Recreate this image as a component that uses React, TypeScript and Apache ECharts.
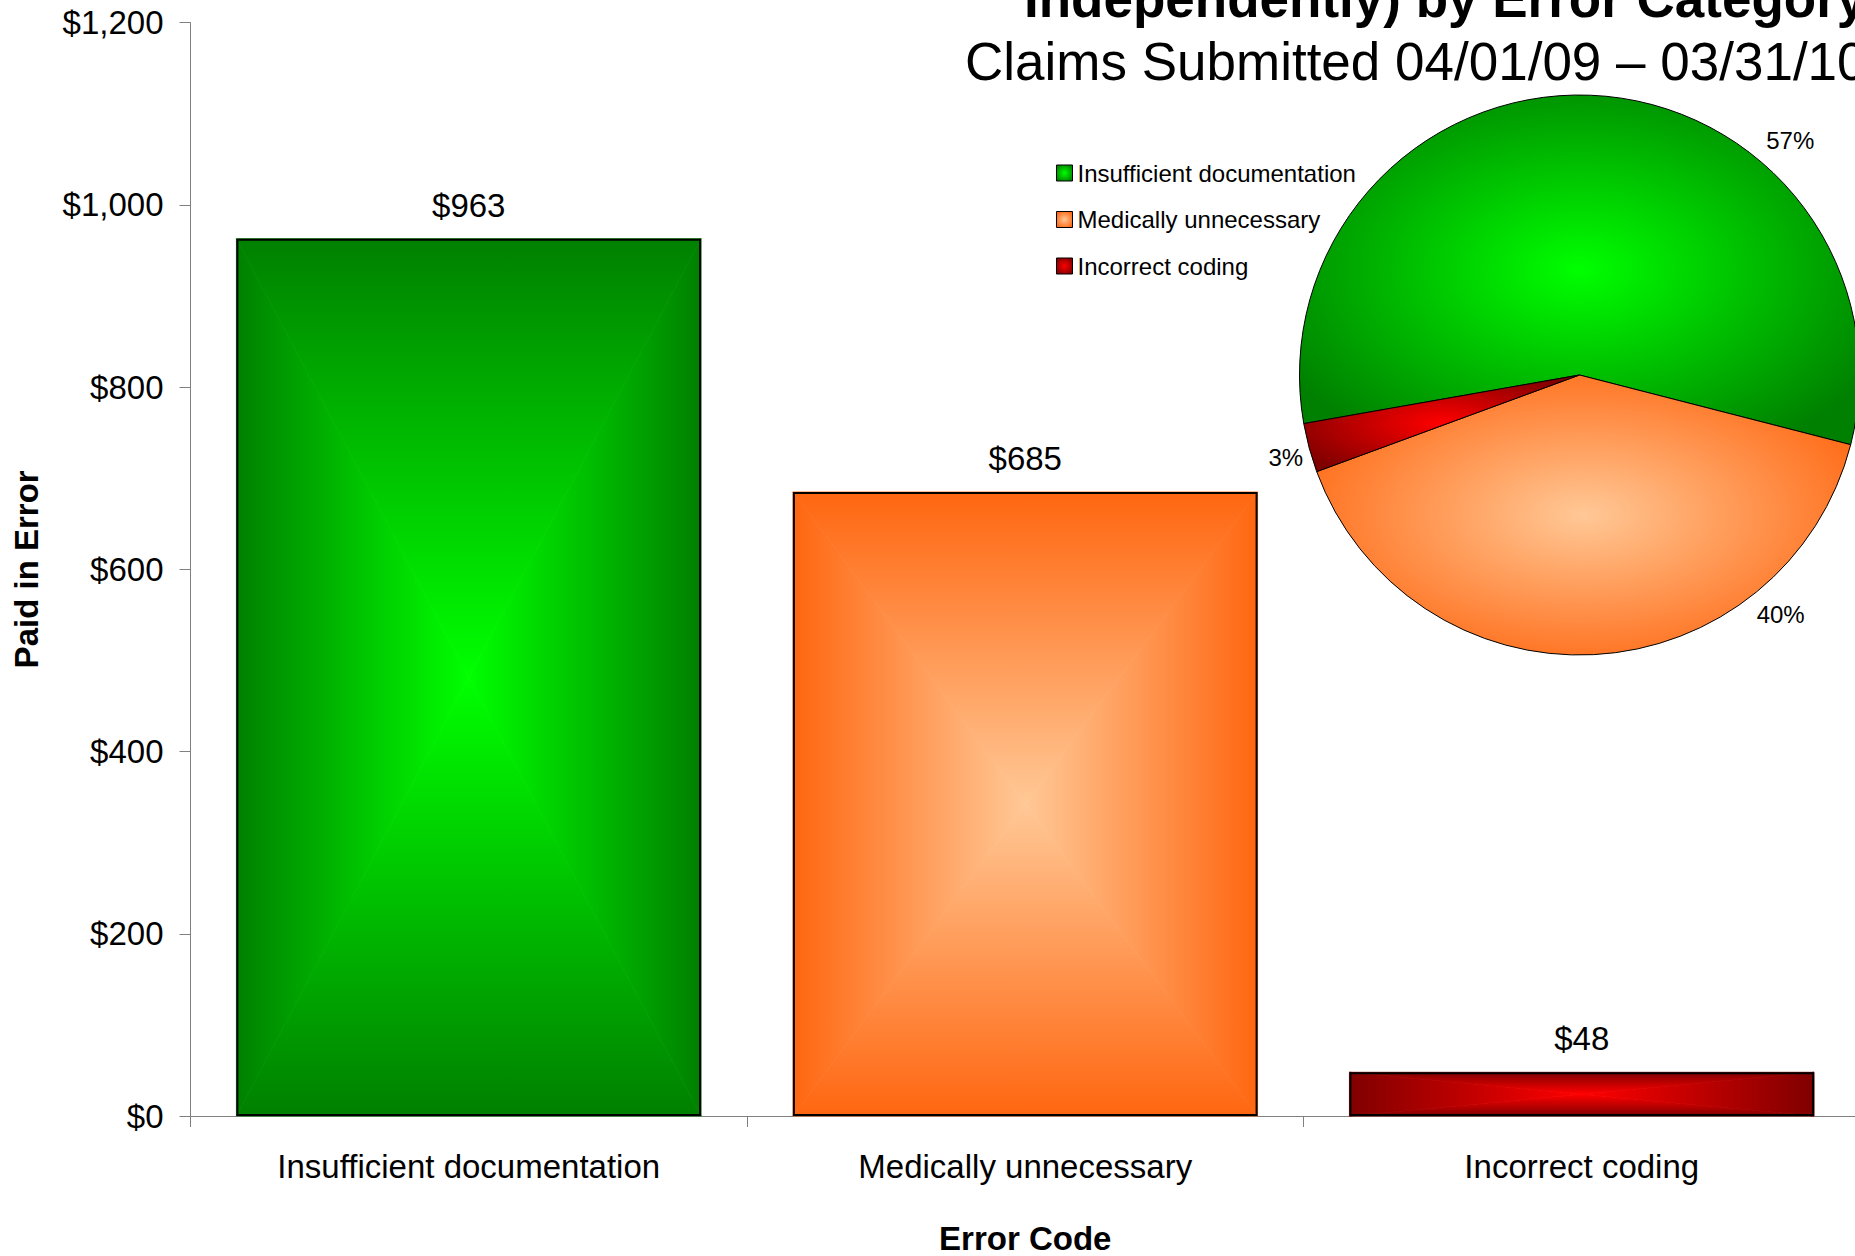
import React, { useEffect, useRef } from "react";
import * as echarts from "echarts";

const categories = ["Insufficient documentation", "Medically unnecessary", "Incorrect coding"];
const paidValues = [963, 685, 48];
const yTicks = [0, 200, 400, 600, 800, 1000, 1200];
const edgeColors = ["#008000", "#ff6610", "#800000"];
const centerColors = ["#00ff00", "#ffc896", "#ff0000"];
const pieLabelAngles = [48, -50, 195.6];
const pieLabelRadii = [315, 313, 305];

const FONT = "'Liberation Sans', Arial, Helvetica, sans-serif";
const W = 1855;
const H = 1256;
const GRID_LEFT = 190.5;
const GRID_TOP = 22.7;
const GRID_BOTTOM_Y = 1116;
const GRID_WIDTH = 1669.5;
const BAR_RATIO = 0.835;
const PIE_CX = 1579.5;
const PIE_CY = 375;
const PIE_R = 280;

function lin(x2: number, y2: number, c0: string, c1: string) {
  return new echarts.graphic.LinearGradient(0, 0, x2, y2, [
    { offset: 0, color: c0 },
    { offset: 1, color: c1 },
  ]);
}

function radial(edge: string, center: string) {
  return new echarts.graphic.RadialGradient(0.5, 0.5, 0.6, [
    { offset: 0, color: center },
    { offset: 1, color: edge },
  ]);
}

export default function App() {
  const ref = useRef<HTMLDivElement>(null);

  useEffect(() => {
    if (!ref.current) return;
    const chart = echarts.init(ref.current, undefined, { renderer: "svg" });

    const renderItem = (params: any, api: any) => {
      const i = params.dataIndex;
      const top = api.coord([api.value(0), api.value(1)]);
      const base = api.coord([api.value(0), 0]);
      const bw = api.size([1, 0])[0] * BAR_RATIO;
      const x0 = top[0] - bw / 2;
      const x1 = top[0] + bw / 2;
      const y0 = top[1];
      const y1 = base[1];
      const cx = (x0 + x1) / 2;
      const cy = (y0 + y1) / 2;
      const e = edgeColors[i];
      const c = centerColors[i];
      const tri = (pts: number[][], fill: any) => ({
        type: "polygon",
        shape: { points: pts },
        style: { fill, stroke: fill, lineWidth: 0.8 },
      });
      return {
        type: "group",
        children: [
          tri([[x0, y0], [x1, y0], [cx, cy]], lin(0, 1, e, c)),
          tri([[x0, y1], [x1, y1], [cx, cy]], lin(0, 1, c, e)),
          tri([[x0, y0], [x0, y1], [cx, cy]], lin(1, 0, e, c)),
          tri([[x1, y0], [x1, y1], [cx, cy]], lin(1, 0, c, e)),
        ],
      };
    };

    const option: any = {
      animation: false,
      backgroundColor: "#ffffff",
      textStyle: { fontFamily: FONT },
      grid: {
        left: GRID_LEFT,
        top: GRID_TOP,
        width: GRID_WIDTH,
        height: GRID_BOTTOM_Y - GRID_TOP,
        containLabel: false,
        outerBoundsMode: "none",
      },
      xAxis: {
        type: "category",
        data: categories,
        name: "Error Code",
        nameLocation: "middle",
        nameGap: 106,
        nameTextStyle: { fontSize: 33, fontWeight: "bold", color: "#000", fontFamily: FONT },
        axisLine: { show: true, lineStyle: { color: "#808080", width: 1 } },
        axisTick: { show: true, length: 11, lineStyle: { color: "#808080" }, alignWithLabel: false },
        axisLabel: { margin: 34, fontSize: 33, color: "#000", fontFamily: FONT, interval: 0 },
        splitLine: { show: false },
      },
      yAxis: {
        type: "value",
        min: yTicks[0],
        max: yTicks[yTicks.length - 1],
        interval: yTicks[1] - yTicks[0],
        name: "Paid in Error",
        nameLocation: "middle",
        nameGap: 148,
        nameTextStyle: { fontSize: 33, fontWeight: "bold", color: "#000", fontFamily: FONT },
        axisLine: { show: true, lineStyle: { color: "#808080", width: 1 } },
        axisTick: { show: true, length: 11, lineStyle: { color: "#808080" } },
        axisLabel: {
          margin: 27,
          fontSize: 33,
          color: "#000",
          fontFamily: FONT,
          formatter: (v: number) => "$" + v.toLocaleString("en-US"),
        },
        splitLine: { show: false },
      },
      legend: {
        orient: "vertical",
        left: 1051,
        top: 156,
        itemWidth: 16,
        itemHeight: 16,
        itemGap: 22.5,
        icon: "rect",
        data: categories,
        itemStyle: { borderColor: "#000", borderWidth: 1 },
        textStyle: { fontSize: 24, color: "#000", fontFamily: FONT },
      },
      graphic: [
        {
          type: "text",
          x: 1024,
          y: -2,
          style: {
            text: "Independently) by Error Category",
            fontSize: 53,
            fontWeight: "bold",
            fontFamily: FONT,
            fill: "#000",
            align: "left",
            verticalAlign: "middle",
          },
        },
        {
          type: "text",
          x: 965,
          y: 61,
          style: {
            text: "Claims Submitted 04/01/09 \u2013 03/31/10",
            fontSize: 53,
            fontFamily: FONT,
            fill: "#000",
            align: "left",
            verticalAlign: "middle",
          },
        },
      ],
      series: [
        {
          type: "custom",
          renderItem,
          encode: { x: 0, y: 1 },
          data: paidValues.map((v, i) => [i, v]),
          z: 2,
          silent: true,
        },
        {
          type: "bar",
          data: paidValues,
          barWidth: BAR_RATIO * 100 + "%",
          z: 3,
          itemStyle: { color: "rgba(0,0,0,0)", borderColor: "#000", borderWidth: 2 },
          label: {
            show: true,
            position: "top",
            distance: 17,
            fontSize: 33,
            color: "#000",
            fontFamily: FONT,
            formatter: (p: any) => "$" + p.value,
          },
        },
        {
          type: "pie",
          center: [PIE_CX, PIE_CY],
          radius: PIE_R,
          startAngle: 190,
          clockwise: true,
          z: 4,
          data: categories.map((name, i) => ({
            name,
            value: paidValues[i],
            itemStyle: { color: radial(edgeColors[i], centerColors[i]) },
          })),
          itemStyle: { borderColor: "#000", borderWidth: 1 },
          label: {
            show: true,
            position: "outside",
            fontSize: 24,
            color: "#000",
            fontFamily: FONT,
            formatter: (p: any) => Math.round(p.percent) + "%",
          },
          labelLine: { show: false },
          labelLayout: (params: any) => {
            const i = params.dataIndex;
            const a = (pieLabelAngles[i] * Math.PI) / 180;
            return {
              x: PIE_CX + pieLabelRadii[i] * Math.cos(a),
              y: PIE_CY - pieLabelRadii[i] * Math.sin(a),
              align: "center",
              verticalAlign: "middle",
            };
          },
        },
      ],
    };

    chart.setOption(option);
    return () => chart.dispose();
  }, []);

  return (
    <div
      ref={ref}
      style={{ position: "absolute", left: 0, top: 0, width: W, height: H, background: "#fff" }}
    />
  );
}
